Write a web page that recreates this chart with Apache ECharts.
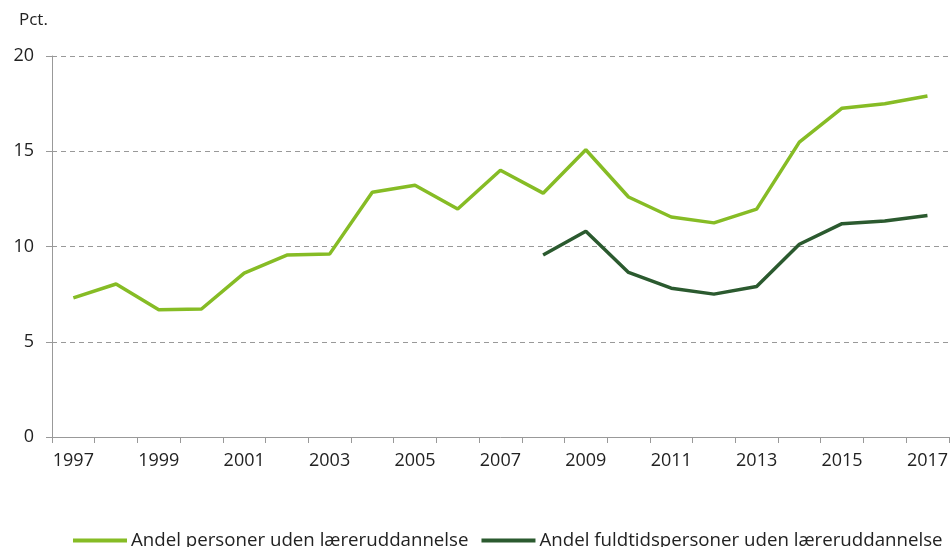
<!DOCTYPE html>
<html>
<head>
<meta charset="utf-8">
<script src="https://cdn.jsdelivr.net/npm/echarts@6/dist/echarts.min.js"></script>
<style>
  html, body { margin: 0; padding: 0; background: #fff; }
  #chart { width: 951px; height: 547px; }
</style>
</head>
<body>
<div id="chart"></div>
<script>
// data
const years = ['1997','1998','1999','2000','2001','2002','2003','2004','2005','2006','2007',
               '2008','2009','2010','2011','2012','2013','2014','2015','2016','2017'];
const andelPersoner = [7.3, 8.03, 6.68, 6.72, 8.6, 9.55, 9.6, 12.85, 13.22, 11.97, 14.0,
                       12.8, 15.08, 12.6, 11.55, 11.24, 11.96, 15.48, 17.26, 17.49, 17.9];
const andelFuldtid = [null, null, null, null, null, null, null, null, null, null, null,
                      9.55, 10.8, 8.64, 7.81, 7.5, 7.9, 10.12, 11.2, 11.34, 11.63];
const seriesNames = ['Andel personer uden læreruddannelse', 'Andel fuldtidspersoner uden læreruddannelse'];

const chart = echarts.init(document.getElementById('chart'));
const font = '"Open Sans", "Noto Sans", sans-serif';

chart.setOption({
  animation: false,
  textStyle: { fontFamily: font },
  grid: { left: 52, right: 0, top: 56, bottom: 110, containLabel: false },
  legend: {
    left: 73,
    top: 531,
    padding: 0,
    icon: 'rect',
    itemWidth: 54,
    itemHeight: 4,
    itemGap: 13,
    textStyle: { fontFamily: font, fontSize: 18.7, color: '#222', padding: [0, 0, 0, -1] },
    data: seriesNames
  },
  xAxis: {
    type: 'category',
    data: years,
    boundaryGap: true,
    axisLine: { lineStyle: { color: '#999', width: 1 } },
    axisTick: { show: true, interval: 0, length: 6, lineStyle: { color: '#999' } },
    axisLabel: { interval: 1, margin: 15, fontSize: 18, color: '#222', fontFamily: font }
  },
  yAxis: {
    type: 'value',
    min: 0,
    max: 20,
    interval: 5,
    name: 'Pct.',
    nameLocation: 'end',
    nameGap: 27,
    nameTextStyle: { fontSize: 17, color: '#222', fontFamily: font, align: 'left', padding: [0, 0, 0, -33] },
    axisLine: { show: true, lineStyle: { color: '#999', width: 1 } },
    axisTick: { show: true, length: 6, lineStyle: { color: '#999' } },
    axisLabel: { margin: 18, fontSize: 18, color: '#222', fontFamily: font },
    splitLine: { lineStyle: { color: '#999', type: [5, 4], width: 1 } }
  },
  series: [
    {
      name: seriesNames[0],
      type: 'line',
      data: andelPersoner,
      symbol: 'none',
      lineStyle: { color: '#86bc25', width: 3.5 },
      itemStyle: { color: '#86bc25' }
    },
    {
      name: seriesNames[1],
      type: 'line',
      data: andelFuldtid,
      symbol: 'none',
      lineStyle: { color: '#2b5a2f', width: 3.5 },
      itemStyle: { color: '#2b5a2f' }
    }
  ]
});
</script>
</body>
</html>
